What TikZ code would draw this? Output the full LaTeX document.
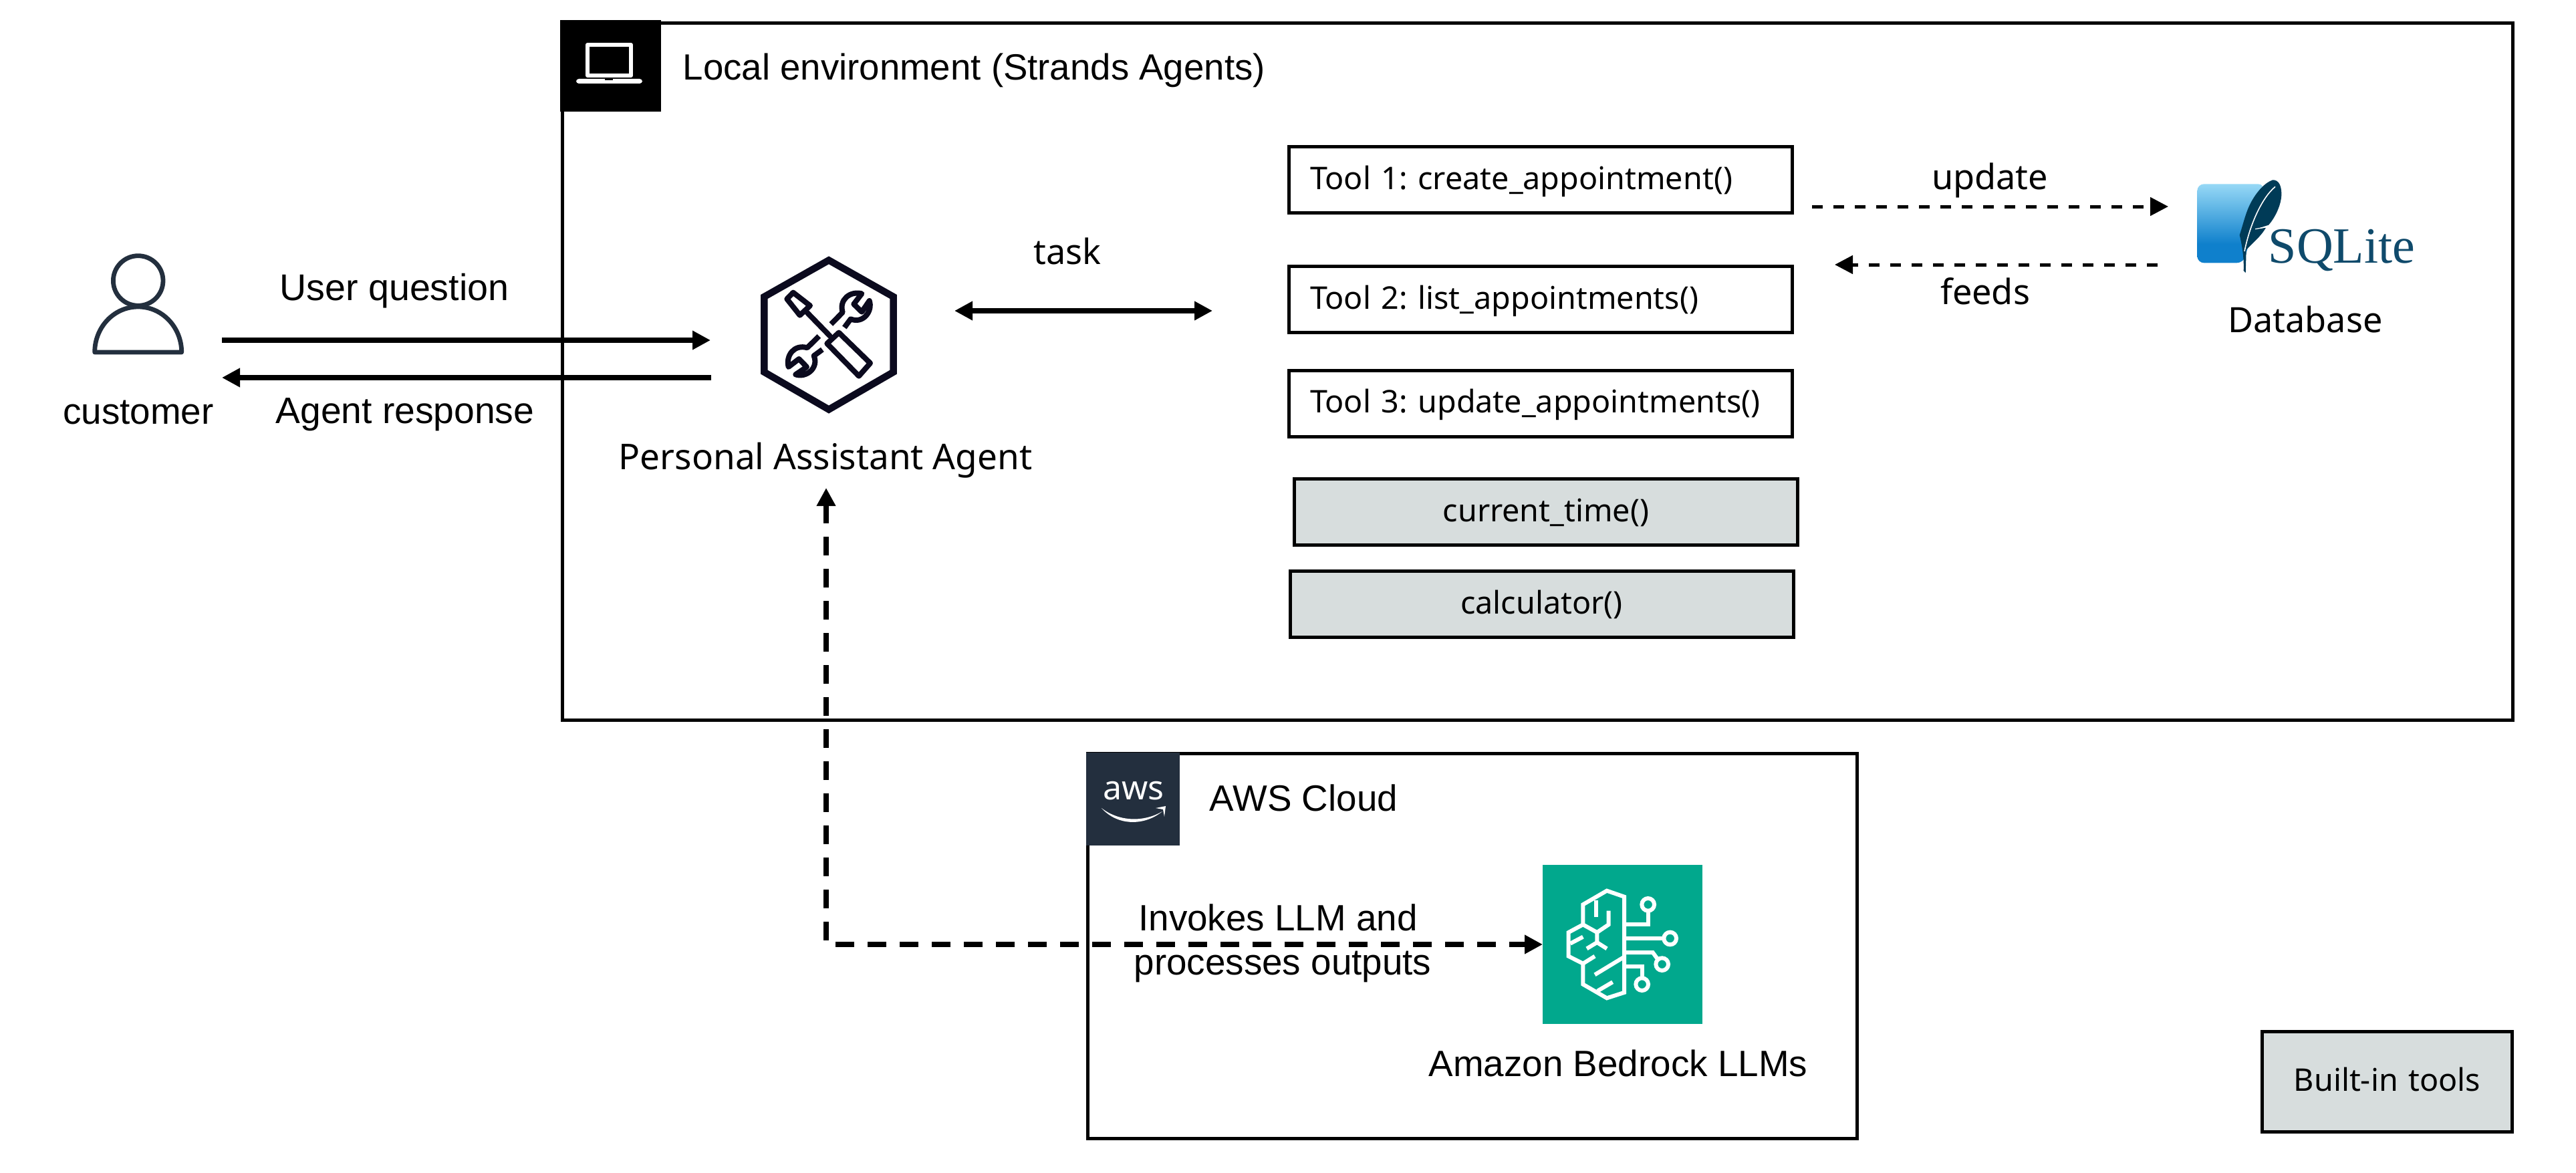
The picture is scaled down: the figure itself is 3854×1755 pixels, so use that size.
\documentclass[tikz,border=0pt]{standalone}
\usepackage{fontspec}
\setmainfont{Liberation Sans}
\newfontfamily\notof{Noto Sans}
\newfontfamily\serf{Liberation Serif}
\usetikzlibrary{arrows.meta}
\frenchspacing
\definecolor{tabnavy}{HTML}{232F3E}
\definecolor{toolgrey}{HTML}{D7DDDD}
\definecolor{bedgreen}{HTML}{01A88D}
\definecolor{icondark}{HTML}{0B0A1E}
\definecolor{sqlfeather}{HTML}{003B57}
\definecolor{sqltext}{HTML}{0F4A6B}
\definecolor{sqltop}{HTML}{97D9F6}
\definecolor{sqlbot}{HTML}{0F80CC}
\pgfdeclareverticalshading{sqlblue}{100bp}{color(0bp)=(sqlbot); color(37bp)=(sqlbot); color(75bp)=(sqltop); color(100bp)=(sqltop)}
\tikzset{
  frame/.style={draw=black,line width=1.25pt,fill=white,inner sep=0pt},
  toolbox/.style={draw=black,line width=1.25pt,inner xsep=0pt,inner ysep=0pt,minimum height=24.75pt,text width=188.25pt,text height=10pt,text depth=3pt,font=\notof\fontsize{11.67pt}{14pt}\selectfont},
  custombox/.style={toolbox,align=left,fill=white,inner xsep=8pt,text width=172.25pt},
  builtinbox/.style={toolbox,align=center,fill=toolgrey},
  lab/.style={inner sep=0pt,font=\fontsize{13.7pt}{16pt}\selectfont},
  nlab/.style={inner sep=0pt,font=\notof\fontsize{13.05pt}{15pt}\selectfont},
  tabbox/.style={inner sep=0pt,draw=none},
  solidconn/.style={line width=1.875pt,-{Triangle[length=6.75pt,width=6.75pt]}},
  solidboth/.style={line width=1.875pt,{Triangle[length=6.75pt,width=6.75pt]}-{Triangle[length=6.75pt,width=6.75pt]}},
  dashconn/.style={line width=1.25pt,dash pattern=on 3.9pt off 4.1pt,-{Triangle[length=6.75pt,width=6.75pt]}},
  bigdash/.style={line width=1.875pt,dash pattern=on 7pt off 5pt,{Triangle[length=6.75pt,width=6.75pt]}-{Triangle[length=6.75pt,width=6.75pt]}},
  iconline/.style={draw=icondark,line width=2pt,line join=round,line cap=round},
  brainline/.style={draw=white,line width=1.5pt,line join=miter},
}
\begin{document}
\begin{tikzpicture}[x=0.25pt,y=-0.25pt]
\useasboundingbox (0,0) rectangle (3854,1755);
\fill[white] (0,0) rectangle (3854,1755);

% frames
\node[frame,minimum width=729.5pt,minimum height=260.5pt] (localframe) at (2300,556) {};
\node[frame,minimum width=287.75pt,minimum height=144pt] (awsframe) at (2202.5,1415.5) {};
\node[tabbox,fill=black,minimum width=37.75pt,minimum height=34.25pt] (localtab) at (913.5,98.5) {};
\node[tabbox,fill=tabnavy,minimum width=35pt,minimum height=34.75pt] (awstab) at (1695,1195.5) {};

% laptop icon
\draw[white,line width=1.5pt,line join=round] (879,67) rectangle (944,113);
\fill[white,rounded corners=1pt] (862,118) rectangle (961,125);
\fill[black] (905,118) rectangle (917,120.5);

% aws logo
\node[inner sep=0pt,anchor=base,text=white,font=\notof\fontsize{12.5pt}{14pt}\selectfont] (awslogo) at (1696,1196) {aws};
\fill[white] (1648,1209) .. controls (1675,1230) and (1712,1230) .. (1739,1214) .. controls (1712,1236) and (1672,1236) .. (1648,1209) -- cycle;
\fill[white] (1729,1209) -- (1744,1206) -- (1742,1222) -- (1740,1211) -- cycle;

% titles
\node[lab,anchor=base west,font=\fontsize{13.65pt}{16pt}\selectfont] (localtitle) at (1021,120) {Local environment (Strands Agents)};
\node[lab,anchor=base west] (awstitle) at (1809,1213) {AWS Cloud};

% person icon
\node[inner sep=0pt,minimum width=34pt,minimum height=36pt] (customer) at (206.5,440) {};
\draw[tabnavy,line width=1.7pt] (206.7,420) circle[radius=37.3];
\draw[tabnavy,line width=1.7pt,line join=round] (141.7,527) .. controls (141.7,490) and (170,459) .. (206.7,459) .. controls (243,459) and (271.7,490) .. (271.7,527) -- cycle;
\node[lab,anchor=base] (customerlabel) at (207,634) {customer};

% agent icon (hexagon + crossed tools)
\node[inner sep=0pt,minimum width=51pt,minimum height=58pt] (agent) at (1240,494) {};
\begin{scope}[shift={(1120,370)},scale=1/3]
  \draw[icondark,line width=2.6pt,line join=miter] (360,58) -- (650,222) -- (650,560) -- (360,728) -- (70,560) -- (70,222) -- cycle;
  % screwdriver
  \draw[iconline] (200,203) -- (172,232) -- (230,305) -- (276,262) -- cycle;
  \draw[iconline] (255,285) -- (365,398);
  \draw[iconline] (352,432) -- (405,383) -- (546,520) -- (495,578) -- cycle;
  % wrenches
  \draw[iconline,line cap=butt] (370,345) -- (422,292) .. controls (405,235) and (455,195) .. (508,208) -- (472,255) -- (508,290) -- (542,240) .. controls (558,285) and (515,345) .. (458,322) -- (430,360);
  \draw[iconline,line cap=butt] (316,399) -- (263,451) .. controls (206,434) and (166,484) .. (179,537) -- (226,501) -- (261,537) -- (211,571) .. controls (256,587) and (316,544) .. (293,487) -- (331,459);
\end{scope}
\node[nlab,anchor=base,font=\notof\fontsize{13.27pt}{16pt}\selectfont] (agentlabel) at (1235,702) {Personal Assistant Agent};

% tool boxes
\node[custombox] (toolone) at (2304.5,269) {Tool 1: create\_appointment()};
\node[custombox] (tooltwo) at (2304.5,448) {Tool 2: list\_appointments()};
\node[custombox] (toolthree) at (2304.5,603.5) {Tool 3: update\_appointments()};
\node[builtinbox] (currenttime) at (2313,766) {current\_time()};
\node[builtinbox] (calc) at (2306.5,904) {calculator()};
\node[builtinbox,text width=93.5pt,minimum height=37.5pt] (builtin) at (3571.5,1618) {Built-in tools};

% SQLite logo
\node[inner sep=0pt,minimum width=80pt,minimum height=30pt] (sqlite) at (3448,335) {};
\begin{scope}[shift={(3200,220)},scale=1/3]
  \shade[shading=sqlblue,rounded corners=2.5pt] (262,166) -- (565,166) -- (470,520) -- (262,520) -- cycle;
  \fill[sqlfeather] (600,148) .. controls (628,146) and (640,175) .. (640,210) .. controls (640,265) and (605,325) .. (582,350) -- (525,368) -- (570,362) .. controls (545,405) and (510,430) .. (482,462) -- (479,565) -- (470,555) .. controls (472,500) and (465,450) .. (452,395) .. controls (470,340) and (480,290) .. (505,245) .. controls (530,200) and (565,160) .. (600,148) -- cycle;
  \draw[white,line width=0.4pt] (612,178) .. controls (555,225) and (500,340) .. (474,468);
  \draw[white,line width=0.3pt] (522,368) -- (570,360);
\end{scope}
\node[inner sep=0pt,anchor=base west,text=sqltext,font=\serf\fontsize{19pt}{22pt}\selectfont] (sqltxt) at (3393,393) {SQLite};
\node[nlab,anchor=base] (dblabel) at (3449,497) {Database};

% bedrock icon
\node[inner sep=0pt,fill=bedgreen,minimum width=59.75pt,minimum height=59.5pt] (bedrock) at (2427.5,1413) {};
\begin{scope}[shift={(2300,1290)},scale=1/3]
  \draw[brainline] (205,280) -- (205,190) -- (312,128) -- (390,155) -- (390,585) -- (312,610) -- (205,548) -- (205,455) -- (140,422) -- (140,315) -- (205,280) -- (268,315) -- (320,280) -- (320,218);
  \draw[brainline] (265,170) -- (265,245);
  \draw[brainline] (268,315) -- (268,360) -- (222,388);
  \draw[brainline] (268,360) -- (312,388);
  \draw[brainline] (148,365) -- (205,335);
  \draw[brainline] (205,455) -- (258,422);
  \draw[brainline] (258,505) -- (390,425);
  \draw[brainline] (270,578) -- (338,538);
  \draw[brainline] (390,280) -- (497,280) -- (497,222);
  \draw[brainline] (497,190) circle[radius=28];
  \draw[brainline] (390,342) -- (568,342);
  \draw[brainline] (596,342) circle[radius=28];
  \draw[brainline] (390,405) -- (518,405) -- (540,435);
  \draw[brainline] (560,458) circle[radius=28];
  \draw[brainline] (390,468) -- (470,468) -- (470,520);
  \draw[brainline] (470,548) circle[radius=28];
\end{scope}
\node[lab,anchor=base] (bedlabel) at (2421,1610) {Amazon Bedrock LLMs};

% connector ends
\coordinate (uqa) at (332,509);
\coordinate (uqb) at (1063,509);
\coordinate (ara) at (1064,565);
\coordinate (arb) at (332,565);
\coordinate (taska) at (1428,465);
\coordinate (taskb) at (1814,465);
\coordinate (upa) at (2711,309);
\coordinate (upb) at (3244,309);
\coordinate (fda) at (3228,396);
\coordinate (fdb) at (2745,396);
\coordinate (inva) at (1236,730);
\coordinate (invc) at (1236,1413);
\coordinate (invb) at (2308,1413);

\draw[solidconn] (uqa) -- (uqb);
\draw[solidconn] (ara) -- (arb);
\draw[solidboth] (taska) -- (taskb);
\draw[dashconn] (upa) -- (upb);
\draw[dashconn] (fda) -- (fdb);
\draw[bigdash] (inva) -- (invc) -- (invb);

% connector labels
\node[lab,anchor=base,font=\fontsize{13.9pt}{15pt}\selectfont] (uqlabel) at (590,449) {User question};
\node[lab,anchor=base,font=\fontsize{13.8pt}{15pt}\selectfont] (arlabel) at (606,633) {Agent response};
\node[nlab,anchor=base] (tasklabel) at (1597,396) {task};
\node[nlab,anchor=base] (uplabel) at (2977,283) {update};
\node[nlab,anchor=base] (fdlabel) at (2970,455) {feeds};
\node[lab,anchor=base,align=center] (invlabel1) at (1912,1392) {Invokes LLM and};
\node[lab,anchor=base,align=center] (invlabel2) at (1919,1458) {processes outputs};
\end{tikzpicture}
\end{document}
